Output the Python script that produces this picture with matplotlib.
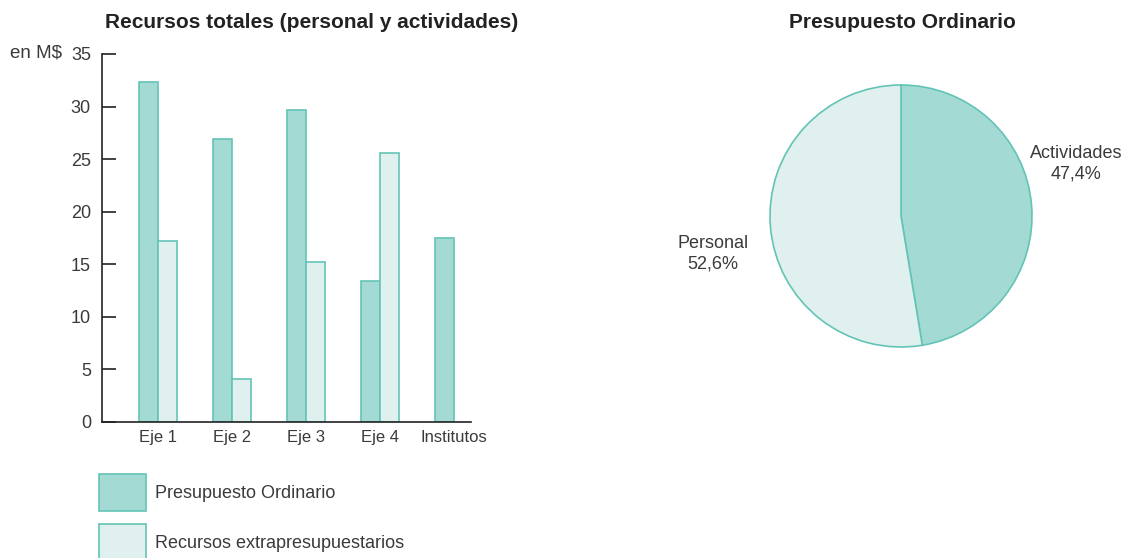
import matplotlib.pyplot as plt
import numpy as np

plt.rcParams['font.family'] = ['Liberation Sans', 'DejaVu Sans']

# datos del gráfico de barras (en M$)
categorias = ['Eje 1', 'Eje 2', 'Eje 3', 'Eje 4', 'Institutos']
presupuesto_ordinario = [32.3, 26.9, 29.7, 13.4, 17.5]
recursos_extra = [17.2, 4.1, 15.2, 25.6, 0]

# datos del gráfico circular
pie_etiquetas = ['Actividades', 'Personal']
pie_valores = [47.4, 52.6]

col_oscuro = '#a3dad3'
col_claro = '#dff0ee'
col_borde = '#63c4b6'
col_texto = '#3a3a3a'

W, H = 1124, 558
fig = plt.figure(figsize=(W / 100, H / 100), dpi=100)


def px_axes(x0, y0, x1, y1):
    # ejes a partir de coordenadas en pixeles (origen arriba a la izquierda)
    return fig.add_axes([x0 / W, 1 - y1 / H, (x1 - x0) / W, (y1 - y0) / H])


# --- barras ---
ax = px_axes(102, 54, 471, 422)
x = np.arange(len(categorias))
width = 0.253
b1 = ax.bar(x - width / 2, presupuesto_ordinario, width=width, color=col_oscuro,
            edgecolor=col_borde, linewidth=1.2, label='Presupuesto Ordinario')
extra_x = [xi + width / 2 for xi, v in zip(x, recursos_extra) if v > 0]
extra_v = [v for v in recursos_extra if v > 0]
b2 = ax.bar(extra_x, extra_v, width=width, color=col_claro,
            edgecolor=col_borde, linewidth=1.2, label='Recursos extrapresupuestarios')
ax.set_xlim(-0.757, 4.23)
ax.set_ylim(0, 35)
ax.set_yticks(np.arange(0, 36, 5))
ax.set_xticks(x)
ax.set_xticklabels(categorias)
for s in ['top', 'right']:
    ax.spines[s].set_visible(False)
for s in ['left', 'bottom']:
    ax.spines[s].set_color('#222222')
    ax.spines[s].set_linewidth(1.2)
ax.tick_params(axis='y', direction='in', length=10, width=1.2, color='#222222',
               labelsize=13, labelcolor=col_texto, pad=8)
ax.tick_params(axis='x', length=0, labelsize=12, labelcolor=col_texto, pad=6)
fig.text(312 / W, 1 - 22 / H, 'Recursos totales (personal y actividades)',
         fontsize=15, fontweight='bold', color='#222222', ha='center', va='center')
fig.text(10 / W, 1 - 53 / H, 'en M$', fontsize=13.5, color=col_texto,
         ha='left', va='center')

fig.legend(handles=[b1, b2], loc='upper left',
           bbox_to_anchor=(99 / W, 1 - 474 / H), borderaxespad=0, borderpad=0,
           frameon=False, fontsize=13, handlelength=2.6, handleheight=2.78,
           handletextpad=0.5, labelspacing=0.72, labelcolor=col_texto)

# --- circular ---
axp = px_axes(770, 85, 1032, 347)
axp.pie(pie_valores, colors=[col_oscuro, col_claro], startangle=90,
        counterclock=False, radius=1,
        wedgeprops=dict(edgecolor=col_borde, linewidth=1.2))
axp.set_xlim(-1, 1)
axp.set_ylim(-1, 1)
axp.set_aspect('equal')
fig.text(902 / W, 1 - 22 / H, 'Presupuesto Ordinario', fontsize=15,
         fontweight='bold', color='#222222', ha='center', va='center')
posiciones = [(1.336, 0.40), (-1.435, -0.29)]
for et, v, (px, py) in zip(pie_etiquetas, pie_valores, posiciones):
    axp.text(px, py, f'{et}\n{v:.1f}%'.replace('.', ','), ha='center',
             va='center', fontsize=13, color=col_texto, linespacing=1.3)

plt.savefig('out.png', dpi=100)
